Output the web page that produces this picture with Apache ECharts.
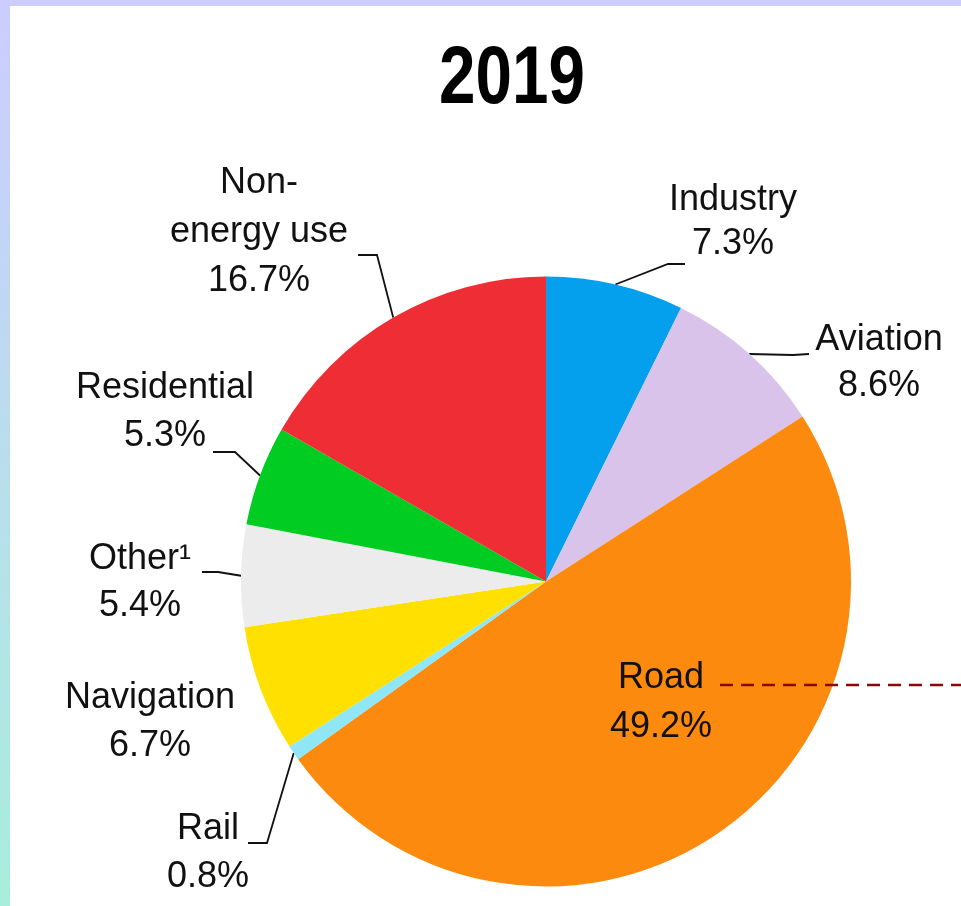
<!DOCTYPE html>
<html>
<head>
<meta charset="utf-8">
<script src="https://cdn.jsdelivr.net/npm/echarts@6/dist/echarts.min.js"></script>
<style>
  html, body { margin: 0; padding: 0; background: #ffffff; }
  #chart { width: 961px; height: 906px; }
</style>
</head>
<body>
<div id="chart"></div>
<script>
// Year shown above the pie
const yearLabel = '2019';

// Shares of final consumption by sector, in percent (clockwise from 12 o'clock)
const categories = ['Industry', 'Aviation', 'Road', 'Rail', 'Navigation', 'Other\u00B9', 'Residential', 'Non-\nenergy use'];
const shares = [7.3, 8.6, 49.2, 0.8, 6.7, 5.4, 5.3, 16.7];

// Slice colours, same order as the categories
const sliceColors = ['#04a0ee', '#d9c3ea', '#fc8a0e', '#8ee6f6', '#ffe000', '#ececec', '#00cc22', '#ee2d34'];

// Where each label block sits (centre of the text block), its line height,
// and the bend / end points of its leader line (the start comes from the slice edge)
const labelPlacement = [
  { x: 733, y: 222.5, lh: 44, bend: [668, 264], end: [685, 264] },
  { x: 879, y: 363.5, lh: 46, bend: [793, 355], end: [809, 354] },
  { x: 661, y: 703, lh: 49, inside: true },
  { x: 208, y: 853.5, lh: 48, bend: [267, 843], end: [248, 843] },
  { x: 150, y: 722.5, lh: 48 },
  { x: 140, y: 583, lh: 47, bend: [218, 572], end: [202, 572] },
  { x: 165, y: 412.5, lh: 48, bend: [235, 452], end: [213, 452] },
  { x: 259, y: 232, lh: 49, bend: [377, 255], end: [358, 255] }
];

const labelFont = "'Liberation Sans', Arial, 'Helvetica Neue', sans-serif";

const chart = echarts.init(document.getElementById('chart'), null, { renderer: 'canvas' });

const pieData = categories.map(function (name, i) {
  const pl = labelPlacement[i];
  return {
    name: name,
    value: shares[i],
    itemStyle: { color: sliceColors[i] },
    label: { position: pl.inside ? 'inside' : 'outside', lineHeight: pl.lh },
    labelLine: { show: !!pl.bend }
  };
});

chart.setOption({
  backgroundColor: '#ffffff',
  animation: false,
  graphic: [
    // frame: gradient strip on the left, lavender strip on top
    {
      type: 'rect', left: 0, top: 0, silent: true,
      shape: { width: 10, height: 906 },
      style: {
        fill: new echarts.graphic.LinearGradient(0, 0, 0, 1, [
          { offset: 0, color: '#ccccff' },
          { offset: 1, color: '#a8eedc' }
        ])
      }
    },
    {
      type: 'rect', left: 0, top: 0, silent: true,
      shape: { width: 961, height: 6 },
      style: { fill: '#ccccff' }
    },
    // year heading, bold and condensed
    {
      type: 'text', x: 512, y: 80, scaleX: 0.8, silent: true,
      style: {
        text: yearLabel, align: 'center', verticalAlign: 'middle',
        font: "bold 82px " + labelFont, fill: '#000000'
      }
    },
    // dashed connector running off to the right from the Road label
    {
      type: 'line', silent: true, z: 100,
      shape: { x1: 720, y1: 685, x2: 961, y2: 685 },
      style: { stroke: '#870a0a', lineWidth: 2.5, lineDash: [13, 8] }
    }
  ],
  series: [{
    type: 'pie',
    center: [546, 581.5],
    radius: 305,
    startAngle: 90,
    clockwise: true,
    avoidLabelOverlap: false,
    emphasis: { disabled: true },
    itemStyle: { borderWidth: 0 },
    label: {
      show: true,
      formatter: '{b}\n{c}%',
      fontFamily: labelFont,
      fontSize: 36,
      color: '#111111',
      align: 'center'
    },
    labelLine: {
      show: true,
      smooth: false,
      length: 20,
      length2: 20,
      lineStyle: { color: '#111111', width: 1.8 }
    },
    labelLayout: function (p) {
      const pl = labelPlacement[p.dataIndex];
      const out = { x: pl.x, y: pl.y, align: 'center', verticalAlign: 'middle' };
      if (pl.bend && p.labelLinePoints) {
        out.labelLinePoints = [p.labelLinePoints[0], pl.bend, pl.end];
      }
      return out;
    },
    data: pieData
  }]
});
</script>
</body>
</html>
